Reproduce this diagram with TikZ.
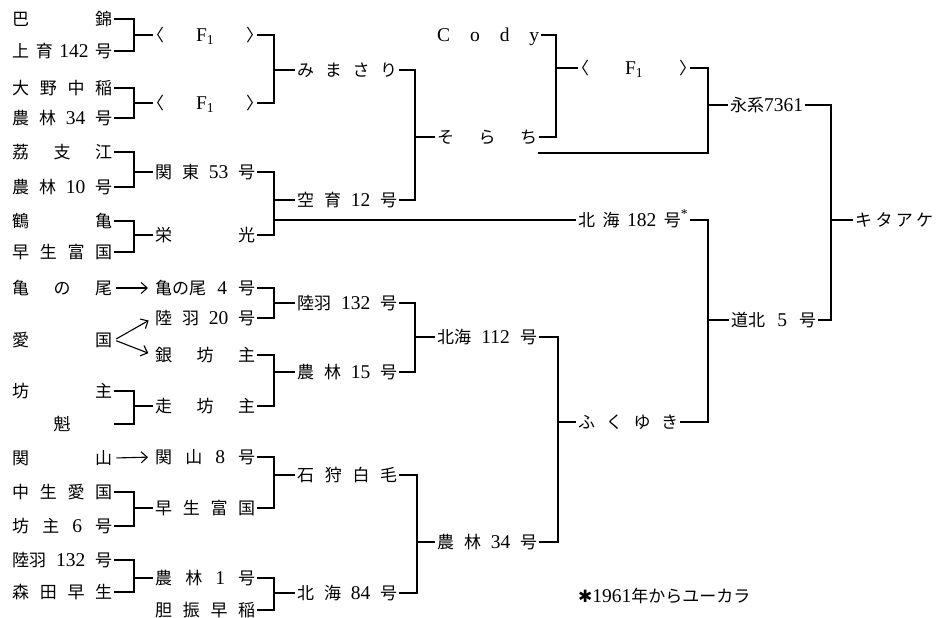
\documentclass[tikz,border=0pt]{standalone}
\usepackage{fontspec}
\setmainfont{Liberation Serif}
\newfontfamily\jp{Noto Sans CJK JP}
\newfontfamily\djv{DejaVu Sans}
\usetikzlibrary{arrows.meta}
\newcommand{\jb}[2]{\makebox[#1pt][s]{#2}}
\newcommand{\dg}[1]{{\fontsize{19.5}{20}\rmfamily #1}}
\newcommand{\Fone}{\kern-8pt〈\hfill\dg{F\textsubscript{1}}\hfill〉\kern-8pt}
\begin{document}
\begin{tikzpicture}[x=1pt,y=-1pt,
  lbl/.style={anchor=west, inner xsep=2pt, inner ysep=0pt, text height=14.6pt, text depth=2pt, font={\fontsize{17}{20}\jp}},
  ln/.style={line width=1.1pt},
  arr/.style={line width=1.1pt, -{Straight Barb[length=6pt,width=11pt]}, shorten >=5pt, shorten <=2pt}]
\useasboundingbox (0,0) rectangle (940,618);
% column 1
\node[lbl] (n1)  at (10,19)  {\jb{100}{巴\hfill 錦}};
\node[lbl] (n2)  at (10,51)  {\jb{100}{上\hfill 育\hfill\dg{142}\hfill 号}};
\node[lbl] (n3)  at (10,88)  {\jb{100}{大\hfill 野\hfill 中\hfill 稲}};
\node[lbl] (n4)  at (10,118) {\jb{100}{農\hfill 林\hfill\dg{34}\hfill 号}};
\node[lbl] (n5)  at (10,152) {\jb{100}{荔\hfill 支\hfill 江}};
\node[lbl] (n6)  at (10,187) {\jb{100}{農\hfill 林\hfill\dg{10}\hfill 号}};
\node[lbl] (n7)  at (10,221) {\jb{100}{鶴\hfill 亀}};
\node[lbl] (n8)  at (10,252) {\jb{100}{早\hfill 生\hfill 富\hfill 国}};
\node[lbl] (n9)  at (10,288) {\jb{100}{亀\hfill の\hfill 尾}};
\node[lbl] (n10) at (10,340) {\jb{100}{愛\hfill 国}};
\node[lbl] (n11) at (10,391) {\jb{100}{坊\hfill 主}};
\node[lbl] (n12) at (10,424) {\makebox[100pt]{魁}};
\node[lbl] (n13) at (10,458) {\jb{100}{関\hfill 山}};
\node[lbl] (n14) at (10,492) {\jb{100}{中\hfill 生\hfill 愛\hfill 国}};
\node[lbl] (n15) at (10,526) {\jb{100}{坊\hfill 主\hfill\dg{6}\hfill 号}};
\node[lbl] (n16) at (10,560) {\jb{100}{陸羽\hfill\dg{132}\hfill 号}};
\node[lbl] (n17) at (10,592) {\jb{100}{森\hfill 田\hfill 早\hfill 生}};
% column 2
\node[lbl] (m1)  at (153,35)  {\jb{100}{\Fone}};
\node[lbl] (m2)  at (153,103) {\jb{100}{\Fone}};
\node[lbl] (m3)  at (153,172) {\jb{100}{関\hfill 東\hfill\dg{53}\hfill 号}};
\node[lbl] (m4)  at (153,235) {\jb{100}{栄\hfill 光}};
\node[lbl] (m5)  at (153,288) {\jb{100}{亀の尾\hfill\dg{4}\hfill 号}};
\node[lbl] (m6)  at (153,318) {\jb{100}{陸\hfill 羽\hfill\dg{20}\hfill 号}};
\node[lbl] (m7)  at (153,355) {\jb{100}{銀\hfill 坊\hfill 主}};
\node[lbl] (m8)  at (153,406) {\jb{100}{走\hfill 坊\hfill 主}};
\node[lbl] (m9)  at (153,457) {\jb{100}{関\hfill 山\hfill\dg{8}\hfill 号}};
\node[lbl] (m10) at (153,508) {\jb{100}{早\hfill 生\hfill 富\hfill 国}};
\node[lbl] (m11) at (153,578) {\jb{100}{農\hfill 林\hfill\dg{1}\hfill 号}};
\node[lbl] (m12) at (153,610) {\jb{100}{胆\hfill 振\hfill 早\hfill 稲}};
% column 3
\node[lbl] (p1) at (295,70)  {\jb{100}{み\hfill ま\hfill さ\hfill り}};
\node[lbl] (p2) at (295,200) {\jb{100}{空\hfill 育\hfill\dg{12}\hfill 号}};
\node[lbl] (p3) at (295,303) {\jb{100}{陸羽\hfill\dg{132}\hfill 号}};
\node[lbl] (p4) at (295,372) {\jb{100}{農\hfill 林\hfill\dg{15}\hfill 号}};
\node[lbl] (p5) at (295,475) {\jb{100}{石\hfill 狩\hfill 白\hfill 毛}};
\node[lbl] (p6) at (295,593) {\jb{100}{北\hfill 海\hfill\dg{84}\hfill 号}};
% column 4
\node[lbl] (q1) at (435,35)  {\jb{102}{\dg{C\hfill o\hfill d\hfill y}}};
\node[lbl] (q2) at (435,137) {\jb{100}{そ\hfill ら\hfill ち}};
\node[lbl] (q3) at (435,337) {\jb{100}{北海\hfill\dg{112}\hfill 号}};
\node[lbl] (q4) at (435,542) {\jb{100}{農\hfill 林\hfill\dg{34}\hfill 号}};
% column 5
\node[lbl] (r1) at (578,68)  {\jb{108}{\Fone}};
\node[lbl] (r2) at (576,220) {\jb{110}{北\hfill 海\hfill\dg{182}\hfill 号\dg{\textsuperscript{*}}}};
\node[lbl] (r3) at (576,422) {\jb{100}{ふ\hfill く\hfill ゆ\hfill き}};
% column 6
\node[lbl] (s1) at (728,105) {永系\dg{7361}};
\node[lbl] (s2) at (729,320) {\jb{85}{道北\hfill\dg{5}\hfill 号}};
% column 7
\node[lbl] (t1) at (853,220) {\jb{78}{キ\hfill タ\hfill ア\hfill ケ}};
% footnote
\node[lbl] (fn) at (576,596) {{\djv ✱}\dg{1961}年からユーカラ};
% arrows
\draw[arr] (n9.east) -- (m5.west);
\draw[arr] (n10.east) -- (m6.west);
\draw[arr] (n10.east) -- (m7.west);
\draw[arr] (n13.east) -- (m9.west);
% brackets column 1 -> 2
\coordinate (a1) at (134,35);
\coordinate (a2) at (134,103);
\coordinate (a3) at (134,172);
\coordinate (a4) at (134,235);
\coordinate (a5) at (134,406);
\coordinate (a6) at (134,508);
\coordinate (a7) at (134,578);
\draw[ln] (n1.east) -| (a1) |- (n2.east);  \draw[ln] (a1) -- (m1.west);
\draw[ln] (n3.east) -| (a2) |- (n4.east);  \draw[ln] (a2) -- (m2.west);
\draw[ln] (n5.east) -| (a3) |- (n6.east);  \draw[ln] (a3) -- (m3.west);
\draw[ln] (n7.east) -| (a4) |- (n8.east);  \draw[ln] (a4) -- (m4.west);
\draw[ln] (n11.east) -| (a5) |- (n12.east); \draw[ln] (a5) -- (m8.west);
\draw[ln] (n14.east) -| (a6) |- (n15.east); \draw[ln] (a6) -- (m10.west);
\draw[ln] (n16.east) -| (a7) |- (n17.east); \draw[ln] (a7) -- (m11.west);
% brackets column 2 -> 3
\coordinate (b1) at (274,70);
\coordinate (b2) at (274,200);
\coordinate (b2x) at (274,220);
\coordinate (b3) at (274,303);
\coordinate (b4) at (274,372);
\coordinate (b5) at (274,475);
\coordinate (b6) at (274,593);
\draw[ln] (m1.east) -| (b1) |- (m2.east);  \draw[ln] (b1) -- (p1.west);
\draw[ln] (m3.east) -| (b2) |- (m4.east);  \draw[ln] (b2) -- (p2.west);
\draw[ln] (b2x) -- (r2.west);
\draw[ln] (m5.east) -| (b3) |- (m6.east);  \draw[ln] (b3) -- (p3.west);
\draw[ln] (m7.east) -| (b4) |- (m8.east);  \draw[ln] (b4) -- (p4.west);
\draw[ln] (m9.east) -| (b5) |- (m10.east); \draw[ln] (b5) -- (p5.west);
\draw[ln] (m11.east) -| (b6) |- (m12.east); \draw[ln] (b6) -- (p6.west);
% brackets column 3 -> 4
\coordinate (c1) at (415,137);
\coordinate (c2) at (415,337);
\coordinate (c3) at (417,542);
\draw[ln] (p1.east) -| (c1) |- (p2.east); \draw[ln] (c1) -- (q2.west);
\draw[ln] (p3.east) -| (c2) |- (p4.east); \draw[ln] (c2) -- (q3.west);
\draw[ln] (p5.east) -| (c3) |- (p6.east); \draw[ln] (c3) -- (q4.west);
% brackets column 4 -> 5
\coordinate (d1) at (556,68);
\coordinate (d2) at (558,422);
\draw[ln] (q1.east) -| (d1) |- (q2.east); \draw[ln] (d1) -- (r1.west);
\draw[ln] (q3.east) -| (d2) |- (q4.east); \draw[ln] (d2) -- (r3.west);
% brackets column 5 -> 6
\coordinate (sx) at (538,153);
\coordinate (e1) at (708,105);
\coordinate (e2) at (708,320);
\draw[ln] (r1.east) -| (e1) |- (sx); \draw[ln] (e1) -- (s1.west);
\draw[ln] (r2.east) -| (e2) |- (r3.east); \draw[ln] (e2) -- (s2.west);
% bracket column 6 -> 7
\coordinate (f1) at (831,220);
\draw[ln] (s1.east) -| (f1) |- (s2.east); \draw[ln] (f1) -- (t1.west);
\end{tikzpicture}
\end{document}
